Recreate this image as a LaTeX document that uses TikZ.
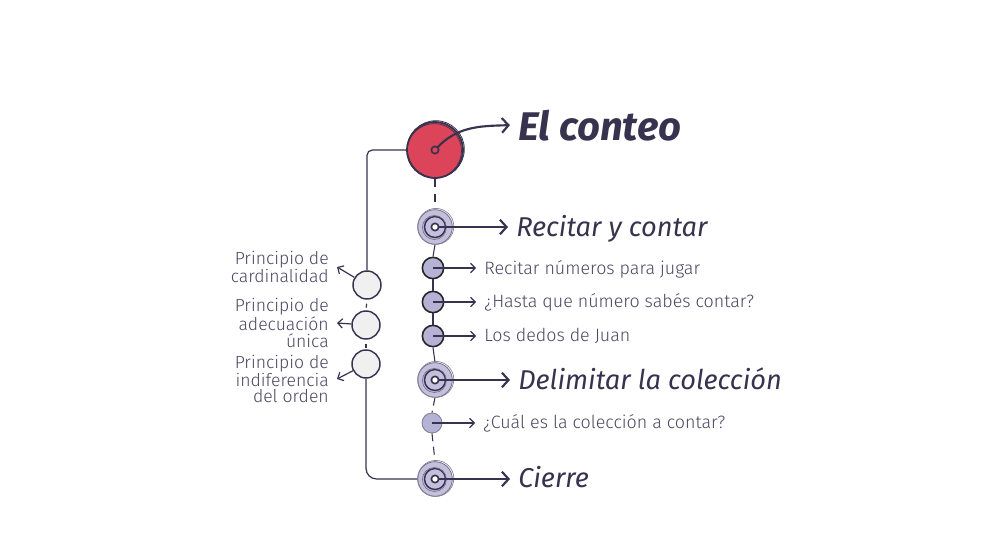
\documentclass[tikz,border=0pt]{standalone}
\usepackage{fontspec}
\setmainfont{Fira Sans}
\newfontfamily\firalight{Fira Sans Light}
\usetikzlibrary{arrows.meta,positioning,calc}
\definecolor{ink}{HTML}{37334F}
\definecolor{conteored}{HTML}{DC4459}
\definecolor{lav}{HTML}{C3BFDD}
\definecolor{lavdark}{HTML}{B6B2D6}
\definecolor{paper}{HTML}{F0F0F0}

\begin{document}
\begin{tikzpicture}[x=0.75pt,y=-0.75pt,
        bigdot/.style={circle, draw=ink, line width=1.3pt, fill=conteored, minimum size=42pt, inner sep=0pt},
        middot/.style={circle, draw=ink!70, line width=0.6pt, fill=lav, minimum size=26pt, inner sep=0pt},
        subdot/.style={circle, draw=black!85, line width=1.2pt, fill=lavdark, minimum size=16pt, inner sep=0pt},
        leftdot/.style={circle, draw=ink, line width=1.1pt, fill=paper, minimum size=21pt, inner sep=0pt},
        pin/.style={circle, draw=ink, line width=1.2pt, fill=white, minimum size=5.5pt, inner sep=0pt},
        title/.style={text=ink, font=\fontsize{30}{32}\selectfont\bfseries\itshape, inner sep=2pt, inner xsep=6pt},
        section/.style={text=ink, font=\fontsize{20.4}{22}\selectfont\itshape, inner sep=2pt, inner xsep=6pt},
        item/.style={text=ink!90, font=\firalight\fontsize{13.4}{15}\selectfont, inner sep=2pt, inner xsep=6pt},
        principle/.style={text=ink!90, font=\firalight\fontsize{13.2}{12.3}\selectfont, align=right, inner sep=2pt, inner xsep=6pt},
        arrow/.style={-{Straight Barb[length=5pt,width=11pt]}, ink, line width=1.6pt},
        smallarrow/.style={-{Straight Barb[length=3.5pt,width=7pt]}, ink, line width=0.9pt}
    ]
        \useasboundingbox (0,0) rectangle (996,560);

        % Spine
        \node[bigdot] (conteo) at (435,150) {};
        \node[middot] (recitar) at (435,227) {};
        \node[subdot] (s1) at (433,268) {};
        \node[subdot] (s2) at (433,302) {};
        \node[subdot] (s3) at (433,336) {};
        \node[middot] (delimitar) at (435,380) {};
        \node[subdot, draw=ink!60, line width=0.7pt, minimum size=15pt] (s4) at (432,423) {};
        \node[middot] (cierre) at (435,479) {};

        \draw[ink, line width=0.8pt, dash pattern=on 6pt off 5pt] (conteo.south) -- (recitar.north);
        \draw[ink, line width=0.8pt] (recitar.south) -- (s1.north);
        \draw[ink, line width=0.8pt] (s1.south) -- (s2.north);
        \draw[ink, line width=0.8pt] (s2.south) -- (s3.north);
        \draw[ink, line width=0.8pt] (s3.south) -- (delimitar.north);
        \draw[ink, line width=0.8pt, dash pattern=on 6pt off 4pt] (delimitar.south) -- (s4.north);
        \draw[ink, line width=0.8pt, dash pattern=on 6pt off 4pt] (s4.south) -- (cierre.north);

        % Sketchy outlines
        \draw[ink, line width=0.6pt] (435.8,149.2) circle[radius=28.5];
        \draw[ink, line width=0.5pt] (434.3,150.8) circle[radius=27.2];
        \foreach \c in {recitar, delimitar, cierre}{
            \draw[ink!60, line width=0.5pt] ($(\c.center)+(0.8,-0.6)$) circle[radius=18];
            \draw[ink, line width=1.1pt] (\c.center) circle[radius=10.5];
            \draw[ink!70, line width=0.5pt] ($(\c.center)+(-0.6,0.5)$) circle[radius=12];
        }

        % Titles
        \node[title, anchor=base west] (conteoT) at (510,140) {El conteo};
        \node[section, anchor=base west] (recitarT) at (508,236) {Recitar y contar};
        \node[section, anchor=base west] (delimitarT) at (510,389) {Delimitar la colección};
        \node[section, anchor=base west] (cierreT) at (510,487) {Cierre};

        % Items
        \node[item, anchor=base west] (s1T) at (476,274) {Recitar números para jugar};
        \node[item, anchor=base west] (s2T) at (476,307) {¿Hasta que número sabés contar?};
        \node[item, anchor=base west] (s3T) at (476,341) {Los dedos de Juan};
        \node[item, anchor=base west] (s4T) at (475,428) {¿Cuál es la colección a contar?};

        \draw[arrow] (conteo.center) .. controls (456,126) and (480,126) .. (conteoT.west);
        \draw[arrow] (recitar.center) -- (recitarT.west |- recitar.center);
        \draw[arrow] (delimitar.center) -- (delimitarT.west |- delimitar.center);
        \draw[arrow] (cierre.center) -- (cierreT.west |- cierre.center);
        \draw[smallarrow] (s1.center) -- (s1T.west |- s1.center);
        \draw[smallarrow] (s2.center) -- (s2T.west |- s2.center);
        \draw[smallarrow] (s3.center) -- (s3T.west |- s3.center);
        \draw[smallarrow] (s4.center) -- (s4T.west |- s4.center);

        \node[pin, fill=conteored] (p0) at (conteo.center) {};
        \node[pin] (p1) at (recitar.center) {};
        \node[pin] (p2) at (delimitar.center) {};
        \node[pin] (p3) at (cierre.center) {};

        % Principles
        \node[leftdot] (lc1) at (367,285) {};
        \node[leftdot] (lc2) at (366,325) {};
        \node[leftdot] (lc3) at (366,364) {};
        \node[principle, anchor=east] (pr1) at (337,267) {Principio de\\cardinalidad};
        \node[principle, anchor=east] (pr2) at (337,323) {Principio de\\adecuación\\única};
        \node[principle, anchor=east] (pr3) at (337,379) {Principio de\\indiferencia\\del orden};

        \draw[ink, line width=0.9pt, rounded corners=4pt] (conteo.west) -| (lc1.north);
        \draw[ink, line width=0.9pt, rounded corners=8pt] (lc3.south) |- (cierre.west);
        \draw[ink, line width=0.9pt, dash pattern=on 0pt off 3pt on 3pt off 3pt] (lc1.south) -- (lc2.north);
        \draw[ink, line width=0.9pt, dash pattern=on 0pt off 3pt on 3pt off 3pt] (lc2.south) -- (lc3.north);
        \draw[smallarrow] (lc1) -- (pr1.east);
        \draw[smallarrow] (lc2) -- (pr2.east);
        \draw[smallarrow] (lc3) -- (pr3.east);
    \end{tikzpicture}
\end{document}
